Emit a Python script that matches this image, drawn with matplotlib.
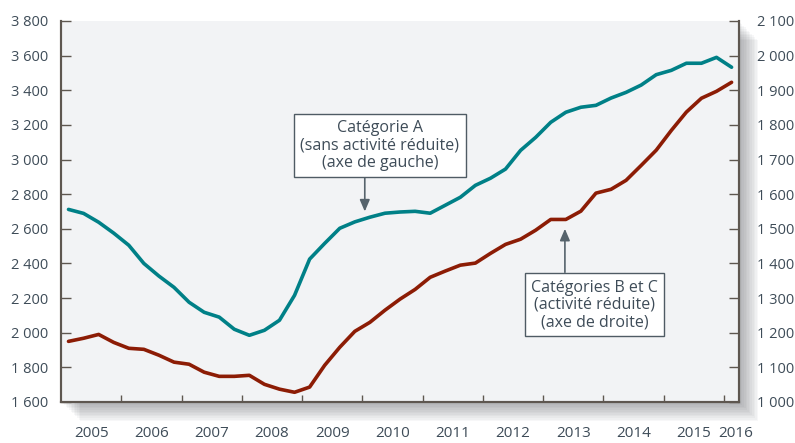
import numpy as np
import matplotlib
matplotlib.use("Agg")
import matplotlib.pyplot as plt
from matplotlib.patches import Rectangle
from matplotlib.ticker import FuncFormatter

plt.rcParams['font.family'] = ['Open Sans', 'DejaVu Sans']

# quarterly data, 2005 Q1 -> 2016 Q1 (milliers)
years = [2005, 2006, 2007, 2008, 2009, 2010, 2011, 2012, 2013, 2014, 2015, 2016]
cat_a = [2712, 2689, 2638, 2575, 2505, 2400, 2327, 2262, 2176, 2118,
         2090, 2020, 1985, 2014, 2072, 2216, 2425, 2516, 2603, 2640,
         2667, 2690, 2697, 2701, 2690, 2736, 2782, 2851, 2892, 2945,
         3053, 3128, 3215, 3273, 3302, 3313, 3355, 3388, 3430, 3490,
         3515, 3556, 3556, 3590, 3533]
cat_bc = [1175, 1184, 1195, 1172, 1155, 1152, 1135, 1115, 1109, 1086,
          1074, 1074, 1077, 1051, 1037, 1028, 1043, 1106, 1158, 1204,
          1230, 1265, 1297, 1325, 1360, 1378, 1395, 1401, 1429, 1455,
          1470, 1496, 1527, 1527, 1551, 1603, 1614, 1640, 1683, 1727,
          1784, 1837, 1877, 1897, 1923]
label_a = "Catégorie A\n(sans activité réduite)\n(axe de gauche)"
label_bc = "Catégories B et C\n(activité réduite)\n(axe de droite)"

t = 2005 + (np.arange(len(cat_a)) + 0.5) / 4

teal = '#008087'
red = '#8c1c05'
txt = '#3e4c58'
spine = '#5e5750'

fig = plt.figure(figsize=(7.95, 4.43), dpi=100)
pos = [0.0767, 0.0926, 0.853, 0.86]
ax = fig.add_axes(pos)
ax.set_facecolor('#f2f3f5')

# soft drop shadow under the plot area
for k in range(12):
    off = (k + 1) * 1.6 / 795
    offy = (k + 1) * 1.6 / 443
    fig.patches.append(Rectangle((pos[0] + off, pos[1] - offy), pos[2], pos[3],
                                 transform=fig.transFigure, facecolor='#30343a',
                                 alpha=0.035, edgecolor='none', zorder=-5))

ax2 = ax.twinx()

ax.plot(t, cat_a, color=teal, lw=2.6, solid_capstyle='round', zorder=3)
ax2.plot(t, cat_bc, color=red, lw=2.6, solid_capstyle='round', zorder=3)

ax.set_xlim(2005, 2016.25)
ax.set_ylim(1600, 3800)
ax2.set_ylim(1000, 2100)
ax.set_yticks(np.arange(1600, 3801, 200))
ax2.set_yticks(np.arange(1000, 2101, 100))

fmt = FuncFormatter(lambda v, p: f"{int(v):,}".replace(",", " "))
ax.yaxis.set_major_formatter(fmt)
ax2.yaxis.set_major_formatter(fmt)

ax.set_xticks(years[1:])
ax.set_xticklabels([])
ax.set_xticks([y + 0.5 for y in years[:-1]] + [2016.2], minor=True)
ax.set_xticklabels([str(y) for y in years], minor=True)
ax.tick_params(axis='x', which='minor', length=0, pad=17, labelsize=11, labelcolor=txt)
ax.tick_params(axis='x', which='major', direction='in', length=5, color=spine, width=1)
ax.tick_params(axis='y', direction='in', length=7, color=spine, width=1,
               labelsize=10.5, labelcolor=txt, pad=9)
ax2.tick_params(axis='y', direction='in', length=7, color=spine, width=1,
                labelsize=10.5, labelcolor=txt, pad=13)

for a in (ax, ax2):
    a.spines['top'].set_visible(False)
    for s in ('left', 'right', 'bottom'):
        a.spines[s].set_color(spine)
        a.spines[s].set_linewidth(1.5)

bbox = dict(boxstyle='square,pad=0.4', facecolor='white', edgecolor='#4f5b64', lw=1)
ax.text(2010.29, 3082, label_a, ha='center', va='center', fontsize=11.5,
        color=txt, bbox=bbox, linespacing=1.1, zorder=5)
ax.text(2013.85, 2161, label_bc, ha='center', va='center', fontsize=11.5,
        color=txt, bbox=bbox, linespacing=1.1, zorder=5)

arrow = dict(arrowstyle='-|>,head_width=0.3,head_length=0.7', color='#56636c', lw=1.2,
             shrinkA=0, shrinkB=0)
ax.annotate('', xy=(2010.04, 2700), xytext=(2010.04, 2897), arrowprops=arrow, zorder=4)
ax.annotate('', xy=(2013.36, 2600), xytext=(2013.36, 2349), arrowprops=arrow, zorder=4)

fig.savefig('out.png', dpi=100)
